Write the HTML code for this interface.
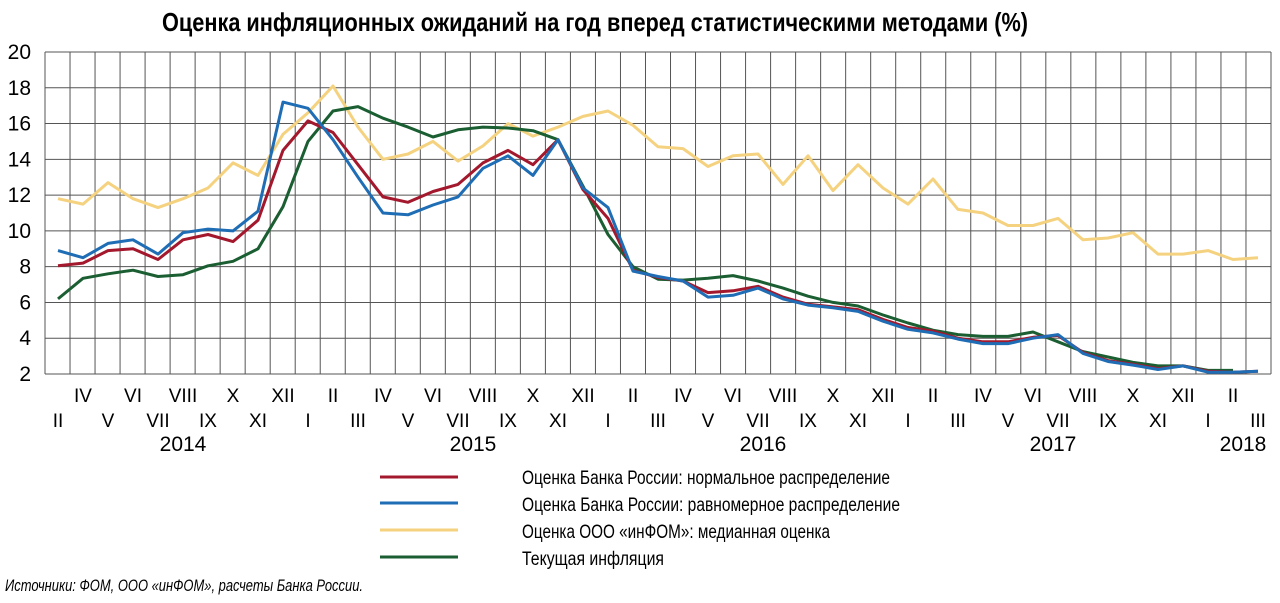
<!DOCTYPE html>
<html><head><meta charset="utf-8">
<style>
body{margin:0;background:#fff;}
svg{display:block;font-family:"Liberation Sans Narrow","Liberation Sans","Noto Sans CJK SC",sans-serif;}
</style></head>
<body>
<svg id="chart" width="1280" height="603" viewBox="0 0 1280 603" xmlns="http://www.w3.org/2000/svg">
<text x="162" y="31" font-size="26" font-weight="bold" textLength="866" lengthAdjust="spacingAndGlyphs">Оценка инфляционных ожиданий на год вперед  статистическими методами (%)</text>
<g id="grid"></g>
<g id="yticks"></g>
<g id="xticks"></g>
<g id="series"></g>
<g>
<line x1="380" y1="477" x2="458" y2="477" stroke="#a3182c" stroke-width="3"/>
<text x="522" y="484" font-size="19" textLength="368" lengthAdjust="spacingAndGlyphs">Оценка Банка России: нормальное распределение</text>
<line x1="380" y1="503" x2="458" y2="503" stroke="#1f6db5" stroke-width="3"/>
<text x="522" y="511" font-size="19" textLength="378" lengthAdjust="spacingAndGlyphs">Оценка Банка России: равномерное распределение</text>
<line x1="380" y1="530" x2="458" y2="530" stroke="#f5d27f" stroke-width="3"/>
<text x="522" y="538" font-size="19" textLength="308" lengthAdjust="spacingAndGlyphs">Оценка ООО «инФОМ»: медианная оценка</text>
<line x1="380" y1="557" x2="458" y2="557" stroke="#1a5e32" stroke-width="3"/>
<text x="522" y="565" font-size="19" textLength="142" lengthAdjust="spacingAndGlyphs">Текущая инфляция</text>
</g>
<text x="5" y="591" font-size="17" font-style="italic" textLength="358" lengthAdjust="spacingAndGlyphs">Источники: ФОМ, ООО «инФОМ», расчеты Банка России.</text>
</svg>
<script>
const monthLabels=["II","IV","V","VI","VII","VIII","IX","X","XI","XII","I","II","III","IV","V","VI","VII","VIII","IX","X","XI","XII","I","II","III","IV","V","VI","VII","VIII","IX","X","XI","XII","I","II","III","IV","V","VI","VII","VIII","IX","X","XI","XII","I","II","III"];
const yearLabels=["2014","2015","2016","2017","2018"];
const yearPos=[5,16.6,28.2,39.8,47.4];
const yTicks=[2,4,6,8,10,12,14,16,18,20];
const infom=[11.8,11.5,12.7,11.8,11.3,11.8,12.4,13.8,13.1,15.4,16.6,18.1,15.8,14.0,14.3,15.0,13.9,14.75,16.0,15.3,15.8,16.4,16.7,15.9,14.7,14.6,13.6,14.2,14.3,12.6,14.2,12.25,13.7,12.4,11.5,12.9,11.2,11.0,10.3,10.3,10.7,9.5,9.6,9.9,8.7,8.7,8.9,8.4,8.5];
const uniform=[8.9,8.5,9.3,9.5,8.7,9.9,10.1,10.0,11.1,17.2,16.85,15.1,13.0,11.0,10.9,11.45,11.9,13.5,14.2,13.1,15.1,12.4,11.3,7.75,7.45,7.2,6.3,6.4,6.8,6.2,5.85,5.7,5.5,4.95,4.5,4.3,3.95,3.7,3.7,4.0,4.2,3.15,2.7,2.5,2.25,2.45,2.1,2.1,2.15];
const normal=[8.05,8.2,8.9,9.0,8.4,9.5,9.8,9.4,10.6,14.5,16.15,15.5,13.7,11.9,11.6,12.2,12.6,13.8,14.5,13.7,15.1,12.3,10.7,7.8,7.4,7.2,6.55,6.65,6.9,6.3,5.9,5.75,5.6,5.05,4.6,4.4,4.0,3.8,3.8,4.05,4.15,3.2,2.75,2.55,2.3,2.45,2.15,2.1,2.15];
const current=[6.2,7.35,7.6,7.8,7.45,7.55,8.05,8.3,9.0,11.35,15.0,16.7,16.95,16.3,15.8,15.25,15.65,15.8,15.75,15.6,15.1,12.5,9.8,8.0,7.3,7.25,7.35,7.5,7.2,6.8,6.35,6.0,5.8,5.3,4.85,4.45,4.2,4.1,4.1,4.35,3.8,3.25,2.95,2.65,2.45,2.45,2.2,2.2,null];
const NS="http://www.w3.org/2000/svg";
const L=45,R=1271,T=52,B=374;
const xs=i=>58+i*25;
const ys=v=>B-(v-2)/18*(B-T);
function mk(tag,attrs,parent){const e=document.createElementNS(NS,tag);for(const k in attrs)e.setAttribute(k,attrs[k]);parent.appendChild(e);return e;}
const grid=document.getElementById('grid');
for(let k=0;k<=49;k++){const x=L+k*(R-L)/49;const l=mk('line',{x1:x,x2:x,y1:T,y2:B,stroke:'#555','stroke-width':1},grid);

}
const yt=document.getElementById('yticks');
yTicks.forEach(v=>{const l=mk('line',{x1:L,x2:R,y1:ys(v),y2:ys(v),stroke:'#555','stroke-width':1},grid);


const t=mk('text',{x:31,y:ys(v)+7,'font-size':21,'text-anchor':'end'},yt);t.textContent=v;

});
const xt=document.getElementById('xticks');
monthLabels.forEach((m,i)=>{const t=mk('text',{x:xs(i),y:(i%2?402:427),'font-size':19,'text-anchor':'middle'},xt);t.textContent=m;

});
yearLabels.forEach((y,i)=>{const t=mk('text',{x:xs(yearPos[i]),y:451,'font-size':21,'text-anchor':'middle'},xt);t.textContent=y;

});
const sg=document.getElementById('series');
function line(arr,color,name){let d='';let pen=false;arr.forEach((v,i)=>{if(v==null){pen=false;return;}d+=(pen?'L':'M')+xs(i)+' '+ys(v).toFixed(1)+' ';pen=true;});
const p=mk('path',{d:d,fill:'none',stroke:color,'stroke-width':3,'stroke-linejoin':'round'},sg);

}
line(infom,'#f5d27f','infom-median-line');
line(current,'#1a5e32','current-inflation-line');
line(normal,'#a3182c','normal-distribution-line');
line(uniform,'#1f6db5','uniform-distribution-line');
</script>
</body></html>
